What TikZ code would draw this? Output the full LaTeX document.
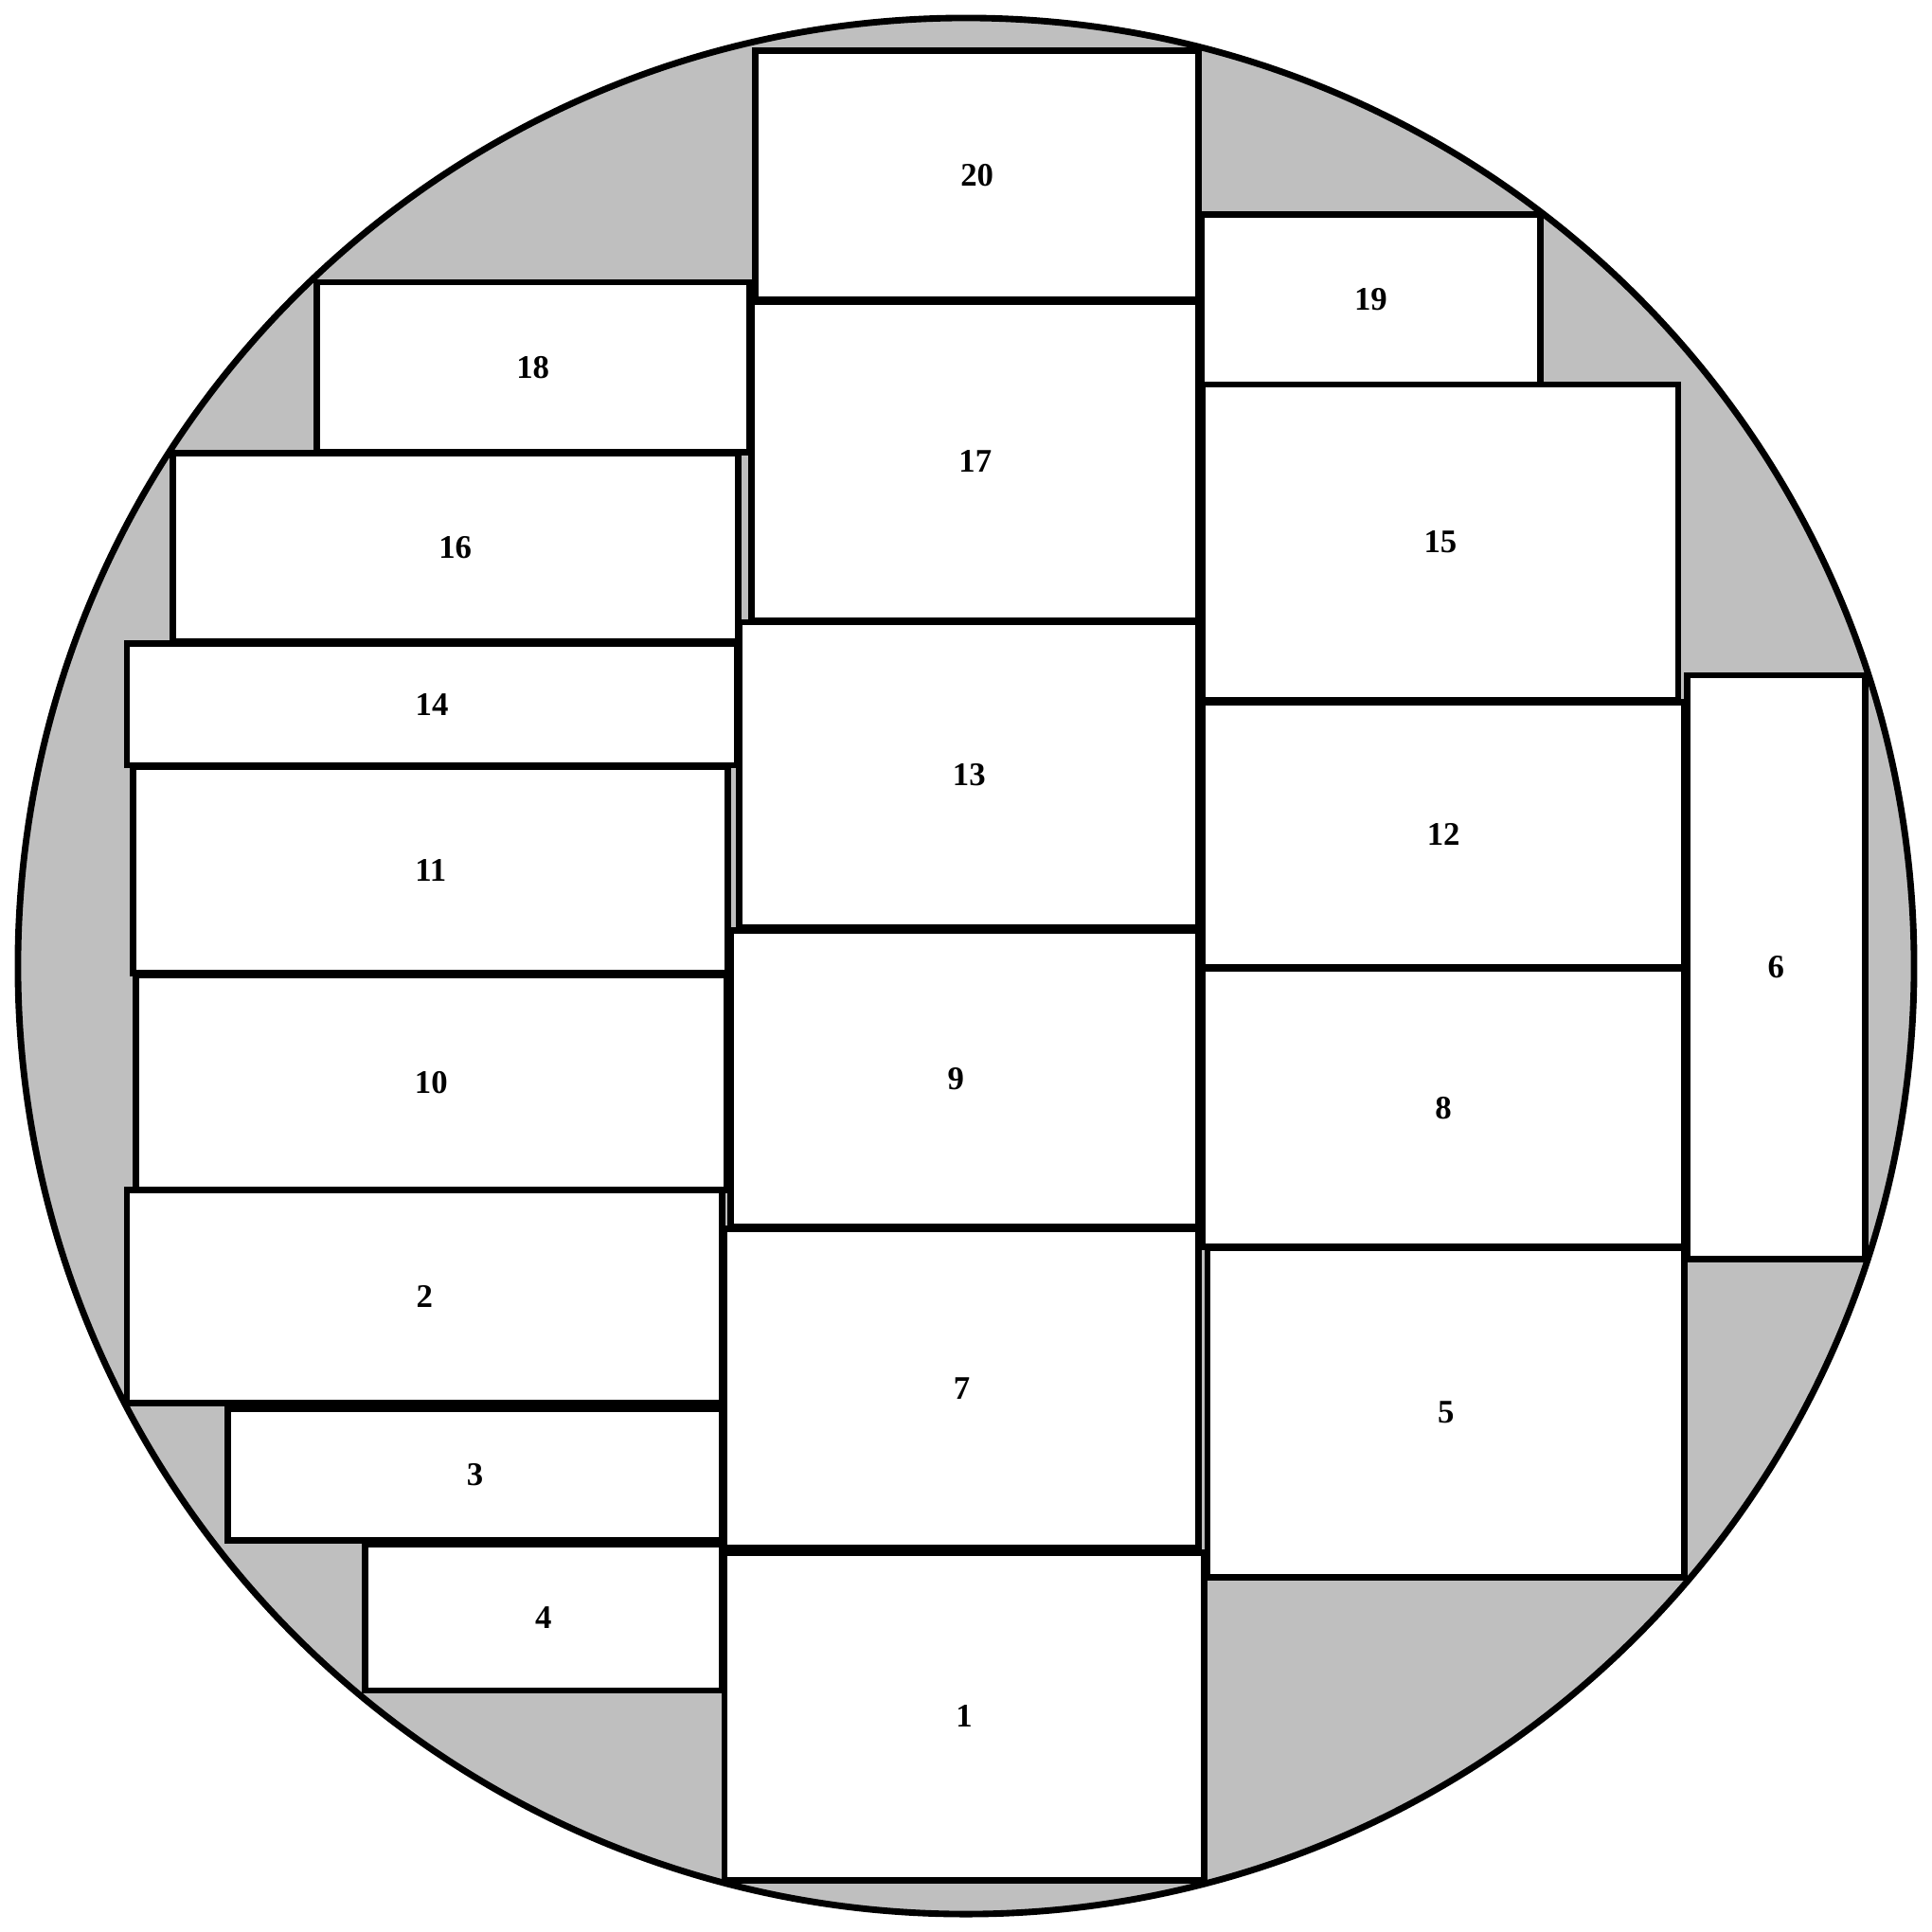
\documentclass[tikz,border=0pt]{standalone}
\usepackage{fontspec}
\setmainfont{Liberation Serif}
\definecolor{bggrey}{RGB}{191,191,191}
\begin{document}
\begin{tikzpicture}[x=0.01cm,y=-0.01cm,
  rbox/.style={draw=black,fill=white,line width=1.5pt,inner sep=0pt,outer sep=0pt,
    font=\fontsize{7.6}{9}\selectfont\bfseries},
  disc/.style={draw=black,fill=bggrey,line width=1.5pt}]
\useasboundingbox (0,0) rectangle (1568,1568);
\newcommand\rbox[6][]{\node[rbox,minimum width={(#4-#2)*0.01cm},minimum height={(#5-#3)*0.01cm},#1]
  (r#6) at ({(#2+#4)/2},{(#3+#5)/2}) {#6};}
\node[disc,circle,minimum size=15.38cm,inner sep=0pt] (wafer) at (784,784) {};
\rbox{613}{41}{973}{243}{20}
\rbox{975}{174}{1250}{312}{19}
\rbox{257}{229}{608}{367}{18}
\rbox{610}{245}{973}{504}{17}
\rbox{140}{368}{599}{521}{16}
\rbox{976}{312}{1362}{568}{15}
\rbox{103}{522}{598}{621}{14}
\rbox{600}{505}{973}{753}{13}
\rbox{976}{570}{1367}{785}{12}
\rbox{1369}{548}{1514}{1022}{6}
\rbox{108}{622}{591}{790}{11}
\rbox{110}{791}{590}{966}{10}
\rbox[text width={(973-593)*0.01cm},align=left,
  execute at begin node={\hspace*{1.76cm}}]{593}{755}{973}{996}{9}
\rbox{976}{786}{1367}{1012}{8}
\rbox{103}{966}{586}{1139}{2}
\rbox{588}{997}{973}{1256}{7}
\rbox{980}{1013}{1367}{1280}{5}
\rbox{185}{1143}{586}{1250}{3}
\rbox{296}{1253}{586}{1372}{4}
\rbox{588}{1260}{977}{1526}{1}
\end{tikzpicture}
\end{document}
